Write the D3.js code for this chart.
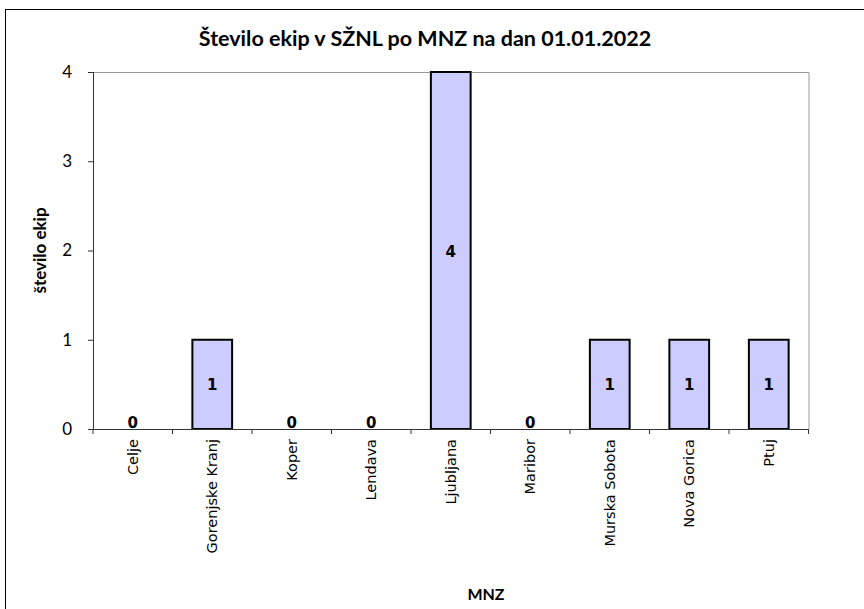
<!DOCTYPE html>
<html>
<head>
<meta charset="utf-8">
<script src="https://cdn.jsdelivr.net/npm/d3@7"></script>
<style>
  body { margin: 0; background: #fff; }
  svg { display: block; }
</style>
</head>
<body>
<div id="chart"></div>
<script>
// podatki
var mnz = ['Celje', 'Gorenjske Kranj', 'Koper', 'Lendava', 'Ljubljana', 'Maribor', 'Murska Sobota', 'Nova Gorica', 'Ptuj'];
var ekipe = [0, 1, 0, 0, 4, 0, 1, 1, 1];
var yTicks = [0, 1, 2, 3, 4];
var naslov = 'Število ekip v SŽNL po MNZ na dan 01.01.2022';
var yNaslov = 'število ekip';
var xNaslov = 'MNZ';

var W = 864, H = 609;
var m = { left: 93, top: 72, right: 808.5, bottom: 429 };

var svg = d3.select('#chart').append('svg')
    .attr('width', W).attr('height', H);

// okvir grafa
svg.append('rect')
    .attr('x', 5.5).attr('y', 9.5)
    .attr('width', W + 10).attr('height', H + 10)
    .attr('fill', '#fff').attr('stroke', '#000');

var x = d3.scaleBand().domain(mnz).range([m.left, m.right]).paddingInner(0.5).paddingOuter(0.25);
var y = d3.scaleLinear().domain([0, 4]).range([m.bottom, m.top]);

// rob risalne povrsine
svg.append('path')
    .attr('d', 'M' + m.left + ' ' + (m.top + 0.5) + 'H' + (m.right + 0.5) + 'V' + m.bottom)
    .attr('fill', 'none').attr('stroke', '#999');

// stolpci
svg.selectAll('rect.bar').data(ekipe).enter().append('rect')
    .attr('class', 'bar')
    .attr('x', function(d, i) { return x(mnz[i]); })
    .attr('y', function(d) { return y(d); })
    .attr('width', x.bandwidth())
    .attr('height', function(d) { return y(0) - y(d); })
    .attr('fill', '#ccccff').attr('stroke', '#000').attr('stroke-width', 2)
    .style('display', function(d) { return d > 0 ? null : 'none'; });

// oznake vrednosti
svg.selectAll('text.val').data(ekipe).enter().append('text')
    .attr('class', 'val')
    .attr('x', function(d, i) { return x(mnz[i]) + x.bandwidth() / 2; })
    .attr('y', function(d) { return d > 0 ? (y(d) + y(0)) / 2 + 6 : y(0) - 1; })
    .attr('text-anchor', 'middle')
    .style('font-family', 'DejaVu Sans')
    .style('font-weight', 'bold')
    .style('font-size', '15px')
    .text(function(d) { return d; });

// os y
var yAxis = d3.axisLeft(y).tickValues(yTicks).tickSize(5).tickFormat(d3.format('d'));
var gy = svg.append('g').attr('transform', 'translate(' + m.left + ',0)').call(yAxis);
gy.select('.domain').attr('stroke', '#333').attr('d', 'M0.5,' + m.top + 'V' + m.bottom);
gy.selectAll('.tick line').attr('stroke', '#333');
gy.selectAll('.tick text')
    .attr('x', -21)
    .style('font-family', 'Lato')
    .style('font-size', '17px').attr('fill', '#000');

// os x
var xAxis = d3.axisBottom(x).tickSize(0).tickSizeOuter(0);
var gx = svg.append('g').attr('transform', 'translate(0,' + m.bottom + ')').call(xAxis);
gx.select('.domain').attr('stroke', '#333').attr('d', 'M' + m.left + ',0.5H' + m.right);
gx.selectAll('.tick text')
    .attr('transform', 'rotate(-90)')
    .attr('x', -10).attr('y', 0).attr('dy', '0.35em')
    .attr('text-anchor', 'end')
    .style('font-family', 'DejaVu Sans')
    .style('font-size', '14.5px').attr('fill', '#000');
// kljukice med kategorijami
var step = x.step();
svg.append('g').selectAll('line').data(d3.range(mnz.length + 1)).enter().append('line')
    .attr('x1', function(i) { return x(mnz[0]) - x.paddingOuter() * step + i * step; })
    .attr('x2', function(i) { return x(mnz[0]) - x.paddingOuter() * step + i * step; })
    .attr('y1', m.bottom).attr('y2', m.bottom + 5)
    .attr('stroke', '#333');

// naslovi
svg.append('text')
    .attr('x', 425).attr('y', 46)
    .attr('text-anchor', 'middle')
    .style('font', 'bold 21.5px Lato, sans-serif')
    .text(naslov);

svg.append('text')
    .attr('transform', 'translate(46,' + ((m.top + m.bottom) / 2) + ') rotate(-90)')
    .attr('text-anchor', 'middle')
    .style('font', 'bold 17px Lato, sans-serif')
    .text(yNaslov);

svg.append('text')
    .attr('x', 486).attr('y', 600)
    .attr('text-anchor', 'middle')
    .style('font', 'bold 16px Lato, sans-serif')
    .text(xNaslov);
</script>
</body>
</html>
